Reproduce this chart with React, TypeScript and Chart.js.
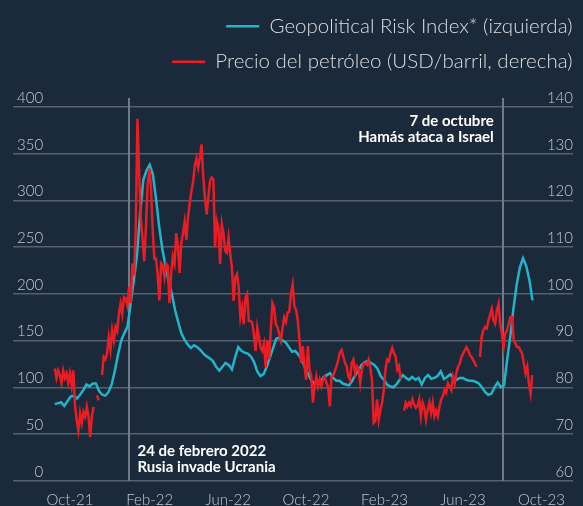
import React, { useEffect, useRef } from 'react';
import { Chart, registerables } from 'chart.js';

Chart.register(...registerables);

// x positions are days relative to 24 Feb 2022
const gprStartDay = -118;
const gprStepDays = 5;
const gprValues = [
  82, 83, 84, 80, 85, 90, 91, 88, 92, 97,
  103, 101, 104, 104, 96, 92, 91, 95, 103, 118,
  135, 150, 158, 165, 190, 215, 242, 287, 322, 332,
  338, 328, 302, 272, 248, 230, 213, 200, 183, 170,
  158, 151, 146, 142, 145, 143, 140, 136, 133, 131,
  128, 122, 118, 122, 126, 124, 119, 132, 143, 139,
  137, 136, 133, 127, 117, 112, 114, 122, 132, 142,
  152, 153, 150, 148, 143, 138, 139, 135, 130, 122,
  115, 108, 104, 106, 106, 111, 113, 115, 110, 107,
  107, 104, 103, 102, 107, 113, 118, 124, 127, 128,
  126, 124, 120, 112, 108, 103, 101, 100, 103, 108,
  113, 110, 108, 111, 108, 110, 103, 110, 113, 109,
  110, 112, 117, 109, 111, 114, 110, 108, 110, 110,
  108, 107, 107, 106, 104, 100, 95, 92, 93, 100,
  105, 100, 102, 130, 155, 185, 210, 228, 238, 230, 215, 193,
];

const oilStartDay = -118;
const oilStepDays = 8 / 3;
const oilValues = [
  84, 82, 83.6, 82.6, 80.9, 83.6, 82, 83, 81, 83,
  80.4, 83.6, 76, 73, 70.8, 74.4, 72.3, 74.7, 73.7, 75.8,
  73.7, 69.4, 73.7, 75.8, null, 78.3, 77.2, null, 82.6, 86.5,
  86, 87.2, 90.7, 88, 92.2, 90, 92.9, 92, 95.7, 97.9,
  95.7, 99.3, 99, 97.5, 101.5, 98, 106.5, 104, 114, 137.5,
  126, 116, 112, 107, 114, 123, 126.8, 123, 114, 107.5,
  107.5, 104, 98.6, 106.5, 106, 103.6, 106.5, 106, 98, 104.5,
  108, 106.5, 113, 110, 104.5, 111, 113, 115.5, 111.5, 116.5,
  119.5, 122, 124, 127.5, 129, 127, 129.2, 132, 125, 120.6,
  117, 120.6, 124.2, 124.9, 124.5, 110, 115.6, 114.2, 106.4, 114.9,
  112.8, 109.2, 108.8, 112, 108.5, 105.6, 98.5, 103.5, 104.2, 101.4,
  95, 97.1, 93.5, 99.2, 100, 94.2, 94.2, 93.8, 91.4, 87.8,
  92.8, 90.7, 88.5, 87.8, 89.3, 84.3, 90, 86, 92, 98,
  97.1, 93.5, 92.8, 91.4, 90, 92.8, 95, 94, 96, 96.2,
  100, 102, 97.3, 96.6, 94.4, 90.2, 85.2, 88.8, 84.5, 81.6,
  88.8, 83.8, 82.3, 76.7, 80.2, 82.3, 80.2, 81.6, 80.2, 81.6,
  82.3, 80.9, 80, 75.9, 82.3, 82.5, 83.5, 84.5, 85.9, 87.5,
  88, 86.6, 85.2, 84.5, 82.3, 81.6, 85.2, 85.9, 83, 84.5,
  84, 80.9, 83.8, 85, 85.2, 84.8, 85.9, 84.1, 81.6, 72.4,
  72.8, 77.4, 73.1, 75.2, 76.7, 79.5, 83.8, 85.9, 85.6, 87.3,
  88.4, 87.3, 86.6, 83.8, 84.5, 81.6, null, 75, 76.7, 75.9,
  76.7, 76, 77.4, 76.3, 75.6, 76, 77.4, 73.8, 76.7, 75.6,
  73.1, 75.2, 76.7, 74.5, 76.7, 73.8, 75, 73.8, 75.9, 77.4,
  78.1, 79.5, 78.8, 80.9, 80.2, 79.4, 82.2, 80.8, 83, 84.4,
  85.1, 86.5, 87.2, 87.9, 88.6, 87.9, 86.9, 86.5, 85.8, 85.1,
  84.4, null, 86.5, 90.8, 92.2, 92.9, 92.6, 94.3, 95.5, 96.8,
  94.3, 93.6, 96.5, 97.9, 93.6, 91.5, 88.6, 91.5, 92.2, 93.6,
  95, 95, 90.1, 89.4, 88.6, 88.6, 87.9, 87.2, 85.1, 83,
  84.4, 80.8, 78.7, 82.6,
];

const tickDays = [-94, 32, 156, 279, 403, 527, 651];
const tickLabels = ['Oct-21', 'Feb-22', 'Jun-22', 'Oct-22', 'Feb-23', 'Jun-23', 'Oct-23'];
const eventDays = [0, 590];
const eventTexts = [
  ['24 de febrero 2022', 'Rusia invade Ucrania'],
  ['7 de octubre', 'Hamás ataca a Israel'],
];
const gprLabel = 'Geopolitical Risk Index* (izquierda)';
const oilLabel = 'Precio del petróleo (USD/barril, derecha)';

const BG = '#1b2a3a';
const CYAN = '#22b5c9';
const RED = '#ec1c24';
const GRID = '#536170';
const TICK = '#c3c9cf';

const eventPlugin = {
  id: 'eventLines',
  beforeDatasetsDraw(chart: any) {
    const { ctx, chartArea, scales } = chart;
    ctx.save();
    ctx.strokeStyle = '#6f7b87';
    ctx.lineWidth = 2;
    eventDays.forEach((d) => {
      const x = Math.round(scales.x.getPixelForValue(d));
      ctx.beginPath();
      ctx.moveTo(x, chartArea.top - 9);
      ctx.lineTo(x, chartArea.bottom);
      ctx.stroke();
    });
    ctx.restore();
  },
  afterDatasetsDraw(chart: any) {
    const { ctx, chartArea, scales } = chart;
    ctx.save();
    ctx.fillStyle = '#ffffff';
    ctx.font = 'bold 15px Lato';
    ctx.textBaseline = 'middle';
    const x0 = scales.x.getPixelForValue(eventDays[0]);
    ctx.textAlign = 'left';
    ctx.fillText(eventTexts[0][0], x0 + 8, chartArea.bottom - 30);
    ctx.fillText(eventTexts[0][1], x0 + 8, chartArea.bottom - 14);
    const x1 = scales.x.getPixelForValue(eventDays[1]);
    ctx.textAlign = 'right';
    ctx.fillText(eventTexts[1][0], x1 - 9, chartArea.top + 14);
    ctx.fillText(eventTexts[1][1], x1 - 9, chartArea.top + 30);
    ctx.restore();
  },
};

export default function App() {
  const ref = useRef<HTMLCanvasElement>(null);
  useEffect(() => {
    if (!ref.current) return;
    const tickFont = { family: 'Lato', size: 15, weight: '300' as any };
    const chart = new Chart(ref.current, {
      type: 'line',
      data: {
        datasets: [
          {
            label: oilLabel,
            data: oilValues.map((v, i) => ({ x: oilStartDay + i * oilStepDays, y: v })) as any,
            yAxisID: 'y1',
            borderColor: RED,
            backgroundColor: RED,
            borderWidth: 2.5,
            pointRadius: 0,
            spanGaps: false,
            tension: 0,
          },
          {
            label: gprLabel,
            data: gprValues.map((v, i) => ({ x: gprStartDay + i * gprStepDays, y: v })),
            yAxisID: 'y',
            borderColor: CYAN,
            backgroundColor: CYAN,
            borderWidth: 2.5,
            pointRadius: 0,
            tension: 0,
          },
        ],
      },
      options: {
        animation: false,
        responsive: false,
        events: [],
        layout: { padding: { left: 13, right: -4.5, top: 1, bottom: 0 } },
        plugins: {
          tooltip: { enabled: false },
          legend: {
            position: 'top',
            align: 'end',
            reverse: true,
            labels: {
              usePointStyle: true,
              pointStyle: 'line',
              pointStyleWidth: 33,
              color: '#dadee2',
              padding: 15,
              font: { family: 'Lato', size: 20.5, weight: '300' as any },
            },
          },
          subtitle: {
            display: true,
            text: '',
            position: 'top',
            weight: 500,
            padding: 0,
            font: { size: 25, lineHeight: 1 },
          } as any,
        },
        scales: {
          x: {
            type: 'linear',
            min: -184,
            max: 701,
            grid: { display: false },
            border: { display: false },
            afterBuildTicks: (axis: any) => {
              axis.ticks = tickDays.map((v) => ({ value: v }));
            },
            afterFit: (s: any) => {
              s.height = 25.3;
            },
            ticks: {
              autoSkip: false,
              maxRotation: 0,
              padding: 2,
              color: TICK,
              font: tickFont,
              callback: (_v: any, i: number) => tickLabels[i],
            },
          },
          y: {
            position: 'left',
            min: 0,
            max: 400,
            grid: { color: GRID, lineWidth: 1.5, drawTicks: false },
            border: { display: false },
            afterFit: (s: any) => {
              s.width = 0;
            },
            ticks: {
              stepSize: 50,
              mirror: true,
              crossAlign: 'far',
              padding: 4,
              labelOffset: -9,
              color: TICK,
              font: tickFont,
            },
          },
          y1: {
            position: 'right',
            min: 60,
            max: 140,
            grid: { display: false, drawTicks: false },
            border: { display: false },
            afterFit: (s: any) => {
              s.width = 14.5;
            },
            ticks: {
              stepSize: 10,
              mirror: true,
              padding: 0,
              labelOffset: -9,
              color: TICK,
              font: tickFont,
            },
          },
        },
      },
      plugins: [eventPlugin],
    });
    return () => chart.destroy();
  }, []);

  return (
    <div style={{ position: 'fixed', left: 0, top: 0, width: 583, height: 506, background: BG }}>
      <canvas ref={ref} width={583} height={506} style={{ display: 'block' }} />
    </div>
  );
}
